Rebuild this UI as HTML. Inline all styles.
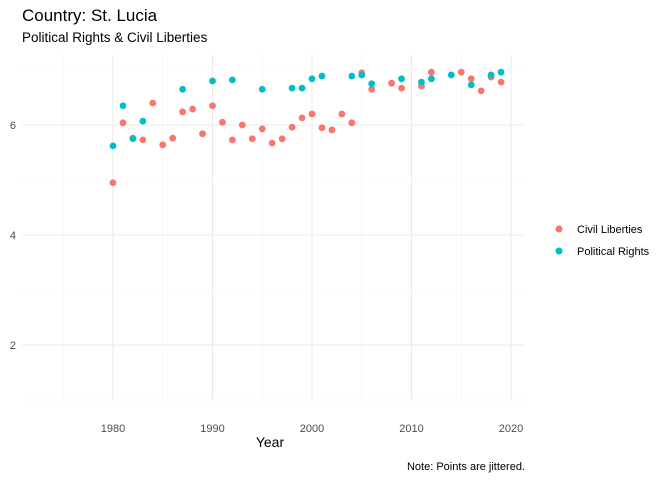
<!DOCTYPE html>
<html><head><meta charset="utf-8"><style>
body{margin:0;background:#fff;font-family:"Liberation Sans",sans-serif}
</style></head><body>
<svg width="672" height="480" id="svg" xmlns="http://www.w3.org/2000/svg" font-family="Liberation Sans, sans-serif">
<text x="22" y="21" font-size="17" fill="#000">Country: St. Lucia</text>
<text x="22" y="42" font-size="13.5" fill="#000">Political Rights &amp; Civil Liberties</text>
<g id="grid"></g><g id="pts"></g><g id="axes"></g>
<text x="270" y="447" font-size="14" text-anchor="middle">Year</text>
<text x="525" y="470" font-size="11" text-anchor="end">Note: Points are jittered.</text>
<g>
<circle cx="559" cy="229" r="3.5" fill="#F8766D"/>
<text x="577" y="233" font-size="11">Civil Liberties</text>
<circle cx="559" cy="251" r="3.5" fill="#00BFC4"/>
<text x="577" y="255" font-size="11">Political Rights</text>
</g>
</svg>
<script>
const clYears=[1980,1981,1982,1983,1984,1985,1986,1987,1988,1989,1990,1991,1992,1993,1994,1995,1996,1997,1998,1999,2000,2001,2002,2003,2004,2005,2006,2008,2009,2011,2012,2015,2016,2017,2018,2019];
const clValues=[4.95,6.04,5.76,5.73,6.4,5.64,5.76,6.24,6.29,5.84,6.35,6.05,5.73,6.0,5.75,5.93,5.67,5.75,5.96,6.13,6.2,5.95,5.91,6.2,6.04,6.95,6.65,6.76,6.67,6.71,6.96,6.96,6.84,6.62,6.87,6.78];
const prYears=[1980,1981,1982,1983,1987,1990,1992,1995,1998,1999,2000,2001,2004,2005,2006,2009,2011,2012,2014,2016,2018,2019];
const prValues=[5.62,6.35,5.75,6.07,6.65,6.8,6.82,6.65,6.67,6.67,6.84,6.89,6.89,6.91,6.75,6.84,6.78,6.84,6.91,6.73,6.91,6.96];
const xTicks=[1980,1990,2000,2010,2020];
const yTicks=[2,4,6];
const NS="http://www.w3.org/2000/svg";
const L=22,R=525,T=55,B=400;
const x=v=>113+(v-1980)*9.95;
const y=v=>125-(v-6)*55;
function mk(tag,attrs,parent){const e=document.createElementNS(NS,tag);for(const k in attrs)e.setAttribute(k,attrs[k]);document.getElementById(parent).appendChild(e);return e;}
for(let yr=1975;yr<=2015;yr+=10){const l=mk('line',{x1:x(yr),x2:x(yr),y1:T,y2:B,stroke:'#f3f3f3','stroke-width':0.6},'grid');

}
for(let v=1;v<=7;v+=2){const l=mk('line',{x1:L,x2:R,y1:y(v),y2:y(v),stroke:'#f3f3f3','stroke-width':0.6},'grid');

}
xTicks.forEach(t=>{const l=mk('line',{x1:x(t),x2:x(t),y1:T,y2:B,stroke:'#ebebeb','stroke-width':1.1},'grid');


const tx=mk('text',{x:x(t),y:B+32,'font-size':11,fill:'#4d4d4d','text-anchor':'middle'},'axes');tx.textContent=t;

});
yTicks.forEach(t=>{const l=mk('line',{x1:L,x2:R,y1:y(t),y2:y(t),stroke:'#ebebeb','stroke-width':1.1},'grid');


const tx=mk('text',{x:16,y:y(t)+4,'font-size':11,fill:'#4d4d4d','text-anchor':'end'},'axes');tx.textContent=t;

});
clYears.forEach((yr,i)=>{const c=mk('circle',{cx:x(yr),cy:y(clValues[i]),r:3.4,fill:'#F8766D'},'pts');

});
prYears.forEach((yr,i)=>{const c=mk('circle',{cx:x(yr),cy:y(prValues[i]),r:3.4,fill:'#00BFC4'},'pts');

});
</script>
</body></html>
